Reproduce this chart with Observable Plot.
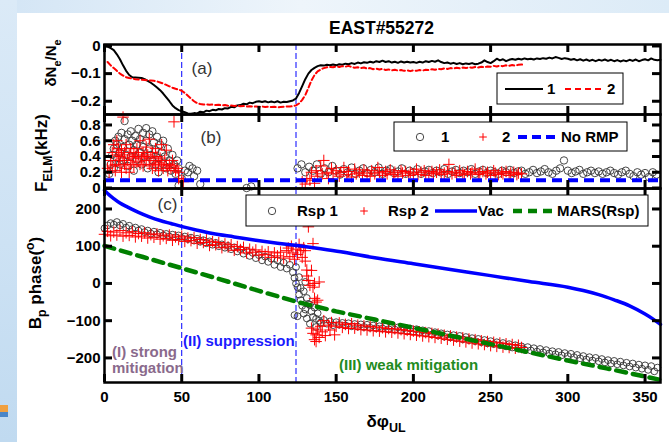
<!DOCTYPE html>
<html><head><meta charset="utf-8">
<script src="https://cdn.jsdelivr.net/npm/d3@7"></script>
<script src="https://cdn.jsdelivr.net/npm/@observablehq/plot@0.6"></script>
<style>
html,body{margin:0;padding:0;background:#fff;}
#wrap{position:relative;width:669px;height:442px;overflow:hidden;font-family:"Liberation Sans",Arial,sans-serif;color:#000;background:#fff;}
.bgTop{position:absolute;left:0;top:0;width:669px;height:13px;background:linear-gradient(90deg,#d3e5f5,#eef5fb 45%,#dcebf7);}
.bgLeft{position:absolute;left:0;top:0;width:17px;height:442px;background:linear-gradient(180deg,#dbeaf7,#cde2f4 55%,#c0daf0);}
.bgCorner{position:absolute;left:0;top:405px;width:8px;height:7px;background:#f0a040;}
.bgCorner2{position:absolute;left:0;top:412px;width:8px;height:5px;background:#4a86c8;}
#wrap svg{position:absolute;left:0;overflow:visible;}
</style></head><body><div id="wrap"><div class="bgTop"></div><div class="bgLeft"></div><div class="bgCorner"></div><div class="bgCorner2"></div></div>
<script>
// ---------------- data ----------------
const xTicks = [0, 50, 100, 150, 200, 250, 300, 350];
const yTicksA = [0, -0.1, -0.2];
const yTicksB = [0, 0.2, 0.4, 0.6, 0.8];
const yTicksC = [-200, -100, 0, 100, 200];
const regionBounds = [50, 124];   // δφ_UL boundaries of regimes
const noRmpLevel = 0.1;           // F_ELM without RMP (kHz)

// (a) δNe/Ne, shot 1: δφ = 0..360 step 2
const densLine1Y = [
 0,-0.002,-0.008,-0.015,-0.03,-0.048,-0.07,-0.09,-0.105,-0.113,-0.114,-0.115,-0.116,-0.12,-0.126,-0.133,-0.141,-0.15,-0.16,-0.172,-0.186,-0.2,-0.215,-0.225,-0.232,-0.236,-0.24,-0.244,-0.245,-0.243,
 -0.244,-0.238,-0.24,-0.234,-0.236,-0.231,-0.233,-0.228,-0.23,-0.225,-0.226,-0.22,-0.222,-0.215,-0.214,-0.209,-0.211,-0.205,-0.207,-0.202,-0.2,-0.203,-0.2,-0.204,-0.201,-0.204,-0.2,-0.205,-0.202,-0.203,
 -0.2,-0.197,-0.19,-0.17,-0.145,-0.12,-0.1,-0.087,-0.079,-0.073,-0.07,-0.071,-0.068,-0.07,-0.067,-0.07,-0.066,-0.068,-0.064,-0.066,-0.062,-0.065,-0.06,-0.063,-0.059,-0.061,-0.057,-0.06,-0.055,-0.058,
 -0.053,-0.058,-0.055,-0.06,-0.057,-0.061,-0.056,-0.06,-0.057,-0.06,-0.058,-0.061,-0.057,-0.06,-0.055,-0.058,-0.054,-0.057,-0.052,-0.058,-0.062,-0.06,-0.064,-0.061,-0.065,-0.062,-0.066,-0.063,-0.065,-0.062,
 -0.066,-0.064,-0.06,-0.052,-0.058,-0.062,-0.055,-0.046,-0.052,-0.048,-0.055,-0.05,-0.047,-0.05,-0.046,-0.049,-0.045,-0.048,-0.046,-0.049,-0.045,-0.047,-0.044,-0.046,-0.042,-0.045,-0.04,-0.043,-0.047,-0.044,
 -0.046,-0.05,-0.047,-0.052,-0.048,-0.053,-0.049,-0.054,-0.05,-0.055,-0.05,-0.053,-0.049,-0.054,-0.05,-0.055,-0.051,-0.056,-0.052,-0.055,-0.05,-0.054,-0.049,-0.055,-0.051,-0.048,-0.052,-0.045,-0.05,-0.052,
 -0.05
];
// (a) δNe/Ne, shot 2: δφ = 2..272 step 2
const densLine2Y = [
 -0.058,-0.07,-0.08,-0.09,-0.1,-0.107,-0.113,-0.116,-0.118,-0.12,-0.121,-0.122,-0.123,-0.124,-0.125,-0.126,-0.128,-0.132,-0.136,-0.141,-0.146,-0.151,-0.155,-0.158,-0.162,-0.17,-0.18,-0.19,-0.2,-0.207,
 -0.21,-0.212,-0.211,-0.213,-0.212,-0.214,-0.213,-0.215,-0.214,-0.216,-0.215,-0.217,-0.216,-0.218,-0.217,-0.219,-0.218,-0.22,-0.219,-0.22,-0.219,-0.221,-0.22,-0.221,-0.22,-0.222,-0.221,-0.22,-0.219,-0.219,
 -0.218,-0.215,-0.208,-0.195,-0.178,-0.152,-0.125,-0.105,-0.092,-0.085,-0.08,-0.077,-0.076,-0.077,-0.074,-0.076,-0.073,-0.075,-0.072,-0.076,-0.079,-0.077,-0.08,-0.078,-0.082,-0.08,-0.084,-0.082,-0.085,-0.083,
 -0.087,-0.085,-0.088,-0.086,-0.089,-0.087,-0.09,-0.088,-0.091,-0.088,-0.09,-0.087,-0.089,-0.086,-0.087,-0.084,-0.086,-0.083,-0.084,-0.081,-0.083,-0.08,-0.082,-0.079,-0.081,-0.078,-0.08,-0.077,-0.079,-0.076,
 -0.078,-0.075,-0.077,-0.074,-0.075,-0.072,-0.074,-0.071,-0.073,-0.07,-0.072,-0.069,-0.071,-0.068,-0.067,-0.068
];

// (b) F_ELM (kHz) — shot 1 (circles), shot 2 (plus)
const felm1Early = [[3,0.18],[4,0.3],[5,0.42],[6,0.5],[6,0.25],[7,0.6],[8,0.38],[8,0.55],[9,0.65],[10,0.45],[10,0.3],[11,0.7],[12,0.52],[12,0.35],[13,0.85],[13,0.62],[14,0.42],[15,0.68],[15,0.28],[16,0.55],[17,0.72],[17,0.4],[18,0.6],[19,0.48],[19,0.22],[20,0.66],[21,0.36],[21,0.55],[22,0.75],[23,0.45],[23,0.62],[24,0.3],[25,0.7],[25,0.52],[26,0.4],[27,0.76],[27,0.6],[28,0.25],[29,0.5],[29,0.68],[30,0.42],[31,0.72],[31,0.35],[32,0.58],[33,0.3],[33,0.48],[34,0.65],[35,0.38],[35,0.2],[36,0.55],[37,0.45],[38,0.3],[38,0.6],[39,0.4],[40,0.25],[41,0.5],[42,0.35],[43,0.22],[44,0.42],[45,0.3],[46,0.18],[47,0.35],[48,0.25],[48,0.03],[50,0.12],[52,0.22],[54,0.2],[55,0.28],[57,0.25],[58,0.15],[60,0.22],[62,0.05],[92,0.0],[95,0.02]];
const felm2Early = [[2,0.25],[3,0.2],[4,0.35],[5,0.28],[5,0.45],[6,0.55],[7,0.3],[7,0.22],[8,0.42],[8,0.6],[9,0.35],[9,0.5],[10,0.28],[10,0.4],[11,0.48],[11,0.2],[12,0.9],[12,0.38],[13,0.3],[13,0.45],[14,0.55],[14,0.25],[15,0.35],[16,0.42],[16,0.2],[17,0.3],[17,0.5],[18,0.38],[19,0.45],[19,0.28],[20,0.4],[21,0.33],[21,0.5],[22,0.42],[23,0.3],[23,0.6],[24,0.38],[25,0.45],[25,0.28],[26,0.4],[27,0.35],[27,0.52],[28,0.42],[29,0.3],[29,0.62],[30,0.38],[31,0.45],[31,0.25],[32,0.35],[33,0.5],[33,0.28],[34,0.4],[35,0.32],[35,0.22],[36,0.38],[37,0.3],[37,0.55],[38,0.25],[39,0.35],[40,0.28],[40,0.48],[41,0.22],[42,0.3],[43,0.25],[44,0.35],[45,0.28],[45,0.84],[46,0.22],[47,0.25],[48,0.2],[48,0.12],[50,0.1],[51,0.08]];
// shot 1 late: δφ = 125..357.5 step 2.5
const felm1LateY = [0.25,0.3,0.2,0.27,0.22,0.3,0.18,0.25,0.2,0.28,0.22,0.17,0.24,0.2,0.26,0.18,0.22,0.25,0.19,0.23,0.2,0.26,0.18,0.22,0.24,0.19,0.21,0.25,0.18,0.22,0.2,0.24,0.18,0.21,0.23,0.19,0.22,0.2,0.24,0.18,0.21,0.23,0.19,0.22,0.2,0.24,0.18,0.21,0.23,0.19,0.22,0.2,0.18,0.22,0.2,0.23,0.19,0.21,0.22,0.18,0.2,0.23,0.19,0.21,0.24,0.2,0.18,0.22,0.25,0.35,0.22,0.19,0.21,0.23,0.18,0.2,0.22,0.19,0.21,0.18,0.2,0.22,0.19,0.17,0.2,0.22,0.18,0.15,0.2,0.17,0.19,0.14,0.2,0.17];
const felm2Late = [[128,0.08],[130,0.05],[131,0.12],[133,0.1],[134,0.2],[136,0.06],[137,0.22],[138,0.15],[140,0.28],[141,0.18],[142,0.35],[144,0.2],[145,0.12],[147,0.25],[148,0.18],[150,0.22],[152,0.15],[153,0.2],[155,0.26],[157,0.17],[158,0.21],[160,0.14],[162,0.24],[163,0.18],[165,0.2],[167,0.16],[168,0.23],[170,0.19],[172,0.15],[173,0.22],[175,0.18],[177,0.26],[178,0.2],[180,0.16],[182,0.21],[183,0.18],[185,0.23],[187,0.17],[188,0.2],[190,0.15],[192,0.22],[193,0.19],[195,0.21],[197,0.16],[198,0.2],[200,0.18],[202,0.24],[203,0.17],[205,0.2],[207,0.22],[208,0.16],[210,0.19],[212,0.21],[213,0.18],[215,0.2],[217,0.23],[218,0.17],[220,0.19],[222,0.21],[223,0.3],[225,0.18],[227,0.2],[228,0.16],[230,0.22],[232,0.19],[233,0.17],[235,0.21],[237,0.18],[238,0.2],[240,0.24],[242,0.17],[243,0.19],[245,0.21],[247,0.18],[248,0.2],[250,0.16],[252,0.22],[253,0.19],[255,0.17],[257,0.2],[258,0.18],[260,0.21],[262,0.16],[263,0.19],[265,0.2],[267,0.17],[268,0.19],[270,0.18]];

// (c) Bp phase (deg) — Rsp 1 (circles)
const rsp1EarlyY = [148,156,162,158,165,156,160,150,155,146,150,142,146,138,142,134,139,132,136,129,133,126,131,124,129,122,126,119,123,115,120,112,116,108,113,104,109,100,105,96,101,92,97,86,92,80,87,74,82,68,76,62,72,58,67,50,62,44,56,40,50]; // δφ 0..120 step 2
const rsp1Jump = [[122,30],[123,15],[123,-85],[124,0],[124,44],[125,-10],[125,-88],[126,17],[126,-30],[127,-12],[127,-45],[128,-60],[129,-21],[129,-81],[130,4],[130,-70],[131,-39],[131,-94],[132,-55],[133,-57],[133,-108],[134,-75],[135,-90],[136,-65],[137,-117],[137,-95],[138,-80],[139,-100],[140,-105]];
const rsp1LateY = [-98,-108,-102,-112,-104,-111,-106,-113,-107,-115,-109,-116,-110,-117,-111,-119,-113,-120,-115,-121,-116,-123,-117,-124,-118,-126,-120,-128,-121,-129,-123,-131,-126,-134,-128,-137,-131,-140,-134,-143,-137,-145,-139,-147,-141,-150,-144,-152,-147,-155,-149,-158,-152,-161,-155,-163,-158,-166,-160,-169,-163,-172,-166,-175,-169,-178,-171,-180,-174,-183,-176,-185,-179,-188,-182,-190,-184,-193,-187,-195,-189,-198,-192,-201,-195,-204,-198,-207,-200,-209,-203,-212,-206,-215,-208,-217,-210,-220,-213,-223,-215,-226,-218,-229,-220,-232,-222,-236,-226]; // δφ 142..358 step 2
// Rsp 2 (plus)
const rsp2EarlyY = [132,140,128,138,130,142,127,136,129,139,125,134,127,136,122,131,124,133,119,128,121,130,116,125,118,127,113,122,115,123,108,118,110,117,102,112,104,110,96,106,98,104,89,99,91,97,82,92,84,90,76,86,78,85,70,82,74,84,68,88]; // δφ 0..118 step 2
const rsp2Jump = [[119,95],[120,72],[121,100],[122,82],[123,65],[124,92],[125,78],[126,105],[127,88],[128,70],[129,96],[130,60],[130,88],[131,36],[131,20],[132,152],[132,8],[133,-5],[134,35],[135,107],[135,-10],[136,0],[136,-40],[137,-50],[138,-45],[139,4],[134,-120],[135,-134],[136,-151],[137,-138],[137,-156],[138,-125],[139,-145],[140,-115],[141,-130],[142,-100],[143,-140],[145,-112],[146,-125],[147,-105],[149,-138],[150,-115]];
const rsp2LateY = [-106,-118,-110,-121,-108,-120,-112,-124,-114,-125,-116,-127,-117,-128,-119,-130,-121,-131,-122,-133,-124,-135,-126,-137,-128,-139,-130,-141,-132,-143,-134,-145,-136,-147,-139,-150,-141,-152,-144,-155,-146,-157,-149,-160,-151,-162,-154,-164,-156,-167,-158,-169,-160,-171,-162,-172,-164,-174,-166,-172]; // δφ 152..270 step 2
// vacuum & MARS response phases
const vacPhase = [[0,250],[3,238],[6,228],[10,216],[15,205],[22,191],[29,179],[36,169],[43,161],[51,152],[60,143],[70,134],[84,125],[98,116],[112,108],[126,101],[140,93],[153,85],[175,69],[200,53],[225,37],[250,21],[275,5],[300,-10],[310,-19],[320,-30],[330,-44],[340,-60],[350,-82],[355,-95],[360,-110]];
const marsPhase = [[0,101],[25,71],[50,41],[75,11],[100,-20],[125,-50],[150,-75],[175,-97],[200,-119],[225,-141],[250,-163],[275,-185],[300,-207],[325,-228],[350,-250],[360,-259]];

// ---------------- helpers ----------------
const onGrid = (start, step, ys) => ys.map((y, i) => ({x: start + i * step, y}));
const fromPairs = ps => ps.map(([x, y]) => ({x, y}));

const dens1 = onGrid(0, 2, densLine1Y);
const dens2 = onGrid(2, 2, densLine2Y);
const felm1 = fromPairs(felm1Early).concat(onGrid(125, 2.5, felm1LateY));
const felm2 = fromPairs(felm2Early).concat(fromPairs(felm2Late));
const rsp1 = onGrid(0, 2, rsp1EarlyY).concat(fromPairs(rsp1Jump), onGrid(142, 2, rsp1LateY));
const rsp2 = onGrid(0, 2, rsp2EarlyY).concat(fromPairs(rsp2Jump), onGrid(152, 2, rsp2LateY));
const vac = fromPairs(vacPhase);
const mars = fromPairs(marsPhase);

const W = 669, ML = 104, MR = 9;
const FW = W - ML - MR;           // frame width in px
const FONT = "Liberation Sans, Arial, sans-serif";
const xDomain = [0, 360];
const fmt1 = d => d === 0 ? "0" : d3.format(".1f")(d);
const TL = 8;                     // inward tick length

function frameAxes(yTicks, yFmt, showX, FH) {
  const t = {stroke: "black", strokeWidth: 3};
  return [
    Plot.ruleX(xTicks, {...t, insetTop: FH - TL}),
    Plot.ruleX(xTicks, {...t, insetBottom: FH - TL}),
    Plot.ruleY(yTicks, {...t, insetRight: FW - TL}),
    Plot.ruleY(yTicks, {...t, insetLeft: FW - TL}),
    Plot.frame({stroke: "black", strokeWidth: 2.5}),
    Plot.axisY(yTicks, {anchor: "left", tickSize: 0, tickPadding: 4, tickFormat: yFmt, fontSize: 15, fontWeight: "bold", label: null}),
    showX ? Plot.axisX(xTicks, {anchor: "bottom", tickSize: 0, tickPadding: 9, fontSize: 15, fontWeight: "bold", label: null})
          : Plot.axisX(xTicks, {anchor: "bottom", tickSize: 0, tickFormat: () => "", label: null})
  ];
}
const boundRule = Plot.ruleX(regionBounds, {stroke: "blue", strokeWidth: 1, strokeDasharray: "6,3"});
const baseStyle = {background: "transparent", overflow: "visible", fontFamily: FONT, color: "black"};

const pA = Plot.plot({
  width: W, height: 114, marginTop: 44, marginBottom: 0, marginLeft: ML, marginRight: MR,
  x: {domain: xDomain}, y: {domain: [-0.248, 0.0054]}, style: baseStyle,
  marks: [
    boundRule,
    Plot.line(dens1, {x: "x", y: "y", stroke: "black", strokeWidth: 2}),
    Plot.line(dens2, {x: "x", y: "y", stroke: "red", strokeWidth: 2, strokeDasharray: "5,3"}),
    ...frameAxes(yTicksA, fmt1, false, 70)
  ]
});
const pB = Plot.plot({
  width: W, height: 74, marginTop: 0, marginBottom: 0, marginLeft: ML, marginRight: MR,
  x: {domain: xDomain}, y: {domain: [-0.006, 0.933]}, style: baseStyle,
  marks: [
    boundRule,
    Plot.dot(felm1, {x: "x", y: "y", r: 3.7, stroke: "#333", strokeWidth: 0.9, fill: "none"}),
    Plot.dot(felm2, {x: "x", y: "y", r: 3.8, symbol: "plus", stroke: "red", strokeWidth: 1}),
    Plot.ruleY([noRmpLevel], {stroke: "blue", strokeWidth: 4, strokeDasharray: "10,6"}),
    ...frameAxes(yTicksB, fmt1, false, 74)
  ]
});
const pC = Plot.plot({
  width: W, height: 254, marginTop: 0, marginBottom: 60, marginLeft: ML, marginRight: MR,
  x: {domain: xDomain}, y: {domain: [-266, 255]}, style: baseStyle,
  marks: [
    boundRule,
    Plot.dot(rsp1, {x: "x", y: "y", r: 3.4, stroke: "#333", strokeWidth: 0.9, fill: "none"}),
    Plot.dot(rsp2, {x: "x", y: "y", r: 3.8, symbol: "plus", stroke: "red", strokeWidth: 1}),
    Plot.line(vac, {x: "x", y: "y", stroke: "blue", strokeWidth: 3.5, curve: "monotone-x"}),
    Plot.line(mars, {x: "x", y: "y", stroke: "#008000", strokeWidth: 4.5, strokeDasharray: "10,7"}),
    ...frameAxes(yTicksC, d => d3.format("d")(d), true, 194)
  ]
});

const wrap = document.getElementById("wrap");
[[pA, 0], [pB, 114], [pC, 188]].forEach(([svg, top]) => {
  svg.style.position = "absolute"; svg.style.left = "0px"; svg.style.top = top + "px";
  wrap.appendChild(svg);
});

// ---------------- overlay: titles, labels, legends ----------------
const ov = d3.create("svg").attr("width", W).attr("height", 442)
  .style("position", "absolute").style("left", "0px").style("top", "0px")
  .attr("font-family", FONT);

ov.append("text").attr("x", 381.5).attr("y", 34).attr("text-anchor", "middle")
  .attr("font-size", 17.5).attr("font-weight", "bold").text("EAST#55272");

function rotLabel(x, y, parts, size) {
  const t = ov.append("text").attr("transform", `translate(${x},${y}) rotate(-90)`)
    .attr("text-anchor", "middle").attr("font-size", size).attr("font-weight", "bold");
  parts.forEach(([s, kind]) => {
    const sp = t.append("tspan").text(s);
    if (kind === "sub") sp.attr("font-size", size * 0.72).attr("dy", size * 0.3);
    if (kind === "back") sp.attr("dy", -size * 0.3);
    if (kind === "sup") sp.attr("font-size", size * 0.72).attr("dy", -size * 0.4);
    if (kind === "supback") sp.attr("dy", size * 0.4);
  });
}
rotLabel(56, 63, [["δN"], ["e", "sub"], ["/N", "back"], ["e", "sub"]], 15);
rotLabel(47, 153, [["F"], ["ELM", "sub"], ["(kHz)", "back"]], 17);
rotLabel(41, 283, [["B"], ["p", "sub"], [" phase(", "back"], ["o", "sup"], [")", "supback"]], 17);

const xl = ov.append("text").attr("x", 386).attr("y", 427).attr("text-anchor", "middle")
  .attr("font-size", 17).attr("font-weight", "bold");
xl.append("tspan").text("δφ");
xl.append("tspan").text("UL").attr("font-size", 12.5).attr("dy", 5);

// panel tags
[["(a)", 202, 74], ["(b)", 211, 143], ["(c)", 167.5, 210]].forEach(([s, x, y]) =>
  ov.append("text").attr("x", x).attr("y", y).attr("text-anchor", "middle")
    .attr("font-size", 17).attr("fill", "#333").text(s));

// regime labels
const reg = (s, x, y, c) => ov.append("text").attr("x", x).attr("y", y).attr("font-size", 15)
  .attr("font-weight", "bold").attr("fill", c).text(s);
reg("(I) strong", 112, 357, "#8a6a8c");
reg("mitigation", 112, 373, "#8a6a8c");
reg("(II) suppression", 183, 346, "#1a1aff");
reg("(III) weak mitigation", 339, 370, "#228b22");

// legends
function box(x0, y0, x1, y1) {
  ov.append("rect").attr("x", x0).attr("y", y0).attr("width", x1 - x0).attr("height", y1 - y0)
    .attr("fill", "white").attr("stroke", "black").attr("stroke-width", 1);
}
const ltext = (s, x, y) => ov.append("text").attr("x", x).attr("y", y + 5.3).attr("font-size", 15)
  .attr("font-weight", "bold").text(s);
const lline = (x0, x1, y, c, w, dash) => ov.append("line").attr("x1", x0).attr("x2", x1).attr("y1", y).attr("y2", y)
  .attr("stroke", c).attr("stroke-width", w).attr("stroke-dasharray", dash || null);
const lcirc = (x, y) => ov.append("circle").attr("cx", x).attr("cy", y).attr("r", 3.7).attr("fill", "none")
  .attr("stroke", "#333").attr("stroke-width", 0.9);
const lplus = (x, y) => ov.append("path").attr("d", `M${x - 3.8},${y}H${x + 3.8}M${x},${y - 3.8}V${y + 3.8}`)
  .attr("stroke", "red").attr("stroke-width", 1);

box(497, 73, 623, 104);
lline(505, 543, 89, "black", 2); ltext("1", 547, 89);
lline(565, 603, 89, "red", 2, "6,4"); ltext("2", 607, 89);

box(394, 122, 627, 151);
lcirc(420, 137); ltext("1", 441, 137);
lplus(483, 137); ltext("2", 502, 137);
lline(518, 558, 137, "blue", 4, "9,5"); ltext("No RMP", 561, 137);

box(246, 195, 648, 226);
lcirc(272, 211); ltext("Rsp 1", 297, 211);
lplus(364, 211); ltext("Rsp 2", 388, 211);
lline(435, 477, 211, "blue", 3.5); ltext("Vac", 478, 211);
lline(513, 553, 211, "#008000", 4.5, "9,6"); ltext("MARS(Rsp)", 557, 211);

wrap.appendChild(ov.node());
</script></body></html>
